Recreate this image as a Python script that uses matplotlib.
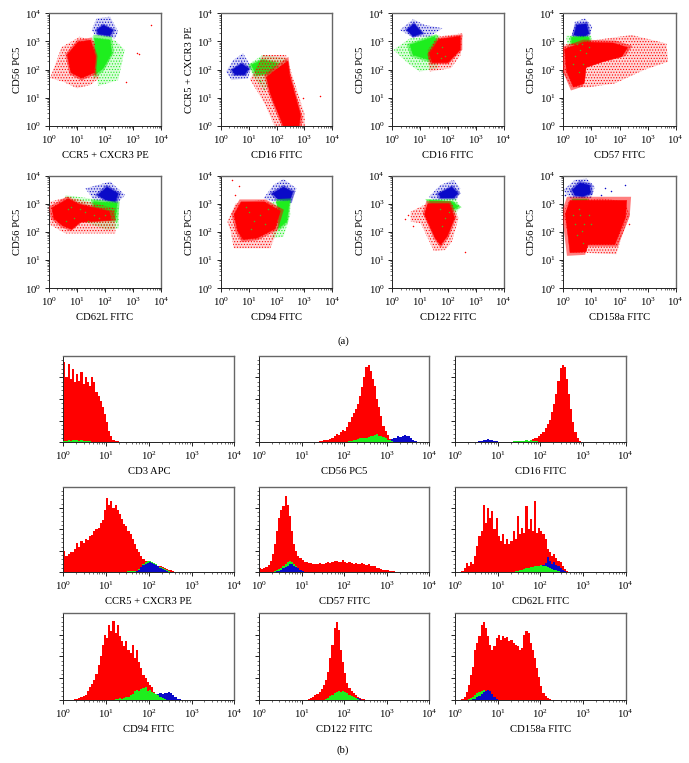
import matplotlib
matplotlib.use('Agg')
import numpy as np
import matplotlib.pyplot as plt
from matplotlib.ticker import LogLocator, NullFormatter, MultipleLocator

plt.rcParams['font.family'] = ['Liberation Serif', 'DejaVu Serif']
plt.rcParams['font.size'] = 7.7
plt.rcParams['hatch.linewidth'] = 0.5

W, H = 689, 763
RED, GREEN, BLUE = '#ff0000', '#1eee1e', '#0a0ac8'

# ---------- (a) dot plots: cloud outlines in log10 units (x, y) ----------
sc_xlabels = ['CCR5 + CXCR3 PE', 'CD16 FITC', 'CD16 FITC', 'CD57 FITC',
              'CD62L FITC', 'CD94 FITC', 'CD122 FITC', 'CD158a FITC']
sc_ylabels = ['CD56 PC5', 'CCR5 + CXCR3 PE', 'CD56 PC5', 'CD56 PC5',
              'CD56 PC5', 'CD56 PC5', 'CD56 PC5', 'CD56 PC5']

red_outer = [
    [(.05,1.7),(.46,2.8),(1.1,3.17),(1.64,3.0),(1.64,2.1),(1.8,1.7),(1.47,1.45),(1,1.34),(.52,1.57)],
    [(1.5,2.52),(2.34,2.52),(2.52,1.93),(3,.45),(3.03,0),(1.93,0),(1.57,.8),(1.28,1.28),(1.05,1.65)],
    [(1.28,2.7),(1.63,3.17),(2.52,3.29),(2.46,2.52),(2.1,2.05),(1.34,1.93),(1.28,2.35)],
    [(0,2.88),(.77,3.0),(2.43,3.23),(3.67,2.93),(3.73,2.28),(2.9,2.0),(1.83,1.51),(.89,1.37),(.3,1.37),(0,1.87)],
    [(.06,3.08),(.71,3.25),(1.36,3.08),(2.37,2.84),(2.37,1.95),(1.24,1.95),(.59,1.95),(.06,2.25)],
    [(.24,2.37),(.53,3.02),(1.54,3.14),(2.13,2.84),(2.01,2.01),(1.78,1.42),(.47,1.42),(.36,2.01)],
    [(.66,2.72),(1.14,2.96),(2.14,3.02),(2.38,2.49),(2.14,1.66),(1.9,1.36),(1.49,1.33),(1.02,2.31),(.66,2.37)],
    [(0,2.66),(.18,3.08),(1.36,3.2),(2.19,3.08),(2.37,2.6),(2.07,1.83),(1.89,1.21),(.3,1.28)],
]
red_core = [
    [(.7,2.52),(1.05,2.93),(1.47,3.0),(1.64,2.46),(1.59,1.93),(1.17,1.75),(.82,1.93)],
    [(1.99,1.93),(2.4,2.22),(2.46,1.75),(2.82,.45),(2.76,0),(2.28,0),(1.81,1.16),(1.69,1.69)],
    [(1.37,2.58),(1.69,3.05),(2.4,3.15),(2.4,2.7),(1.99,2.28),(1.46,2.28)],
    [(.12,2.7),(.77,2.93),(1.72,2.9),(2.2,2.75),(2.0,2.45),(1.36,2.28),(.83,2.1),(.77,1.57),(.41,1.45),(.18,1.99)],
    [(.18,2.84),(.71,3.14),(1.07,2.96),(2.07,2.72),(2.13,2.43),(1.12,2.37),(.83,2.13),(.53,2.25),(.24,2.49)],
    [(.53,2.6),(.77,3.02),(1.54,3.02),(2.07,2.72),(1.89,2.13),(1.3,1.83),(.83,1.78),(.65,2.07)],
    [(1.2,2.6),(1.31,2.96),(2.02,2.96),(2.2,2.49),(1.96,1.89),(1.73,1.6),(1.55,1.83)],
    [(.15,2.6),(.3,3.05),(2.17,3.05),(2.13,2.49),(1.78,1.6),(.89,1.6),(.83,1.36),(.3,1.33)],
]
green_outer = [
    [(1.53,3.17),(2.35,3.05),(2.7,2.7),(2.47,1.63),(1.76,1.42),(1.64,2.34)],
    [(.98,2.17),(1.5,2.52),(2.34,2.4),(2.4,1.93),(1.8,1.4),(1.5,1.34),(1.16,1.75)],
    [(.04,2.7),(.63,3.11),(1.69,3.23),(1.63,2.05),(.98,1.93),(.57,2.22)],
    [(.1,3.2),(1.0,3.2),(1.0,2.2),(.3,1.8)],
    [(.59,3.31),(1.83,3.14),(2.49,3.02),(2.49,2.13),(2.07,2.07),(.65,2.6)],
    [(1.66,3.02),(2.49,3.14),(2.49,2.6),(2.25,1.83),(1.83,1.78),(2.0,2.5)],
    [(1.25,3.14),(2.26,3.2),(2.44,2.9),(2.26,2.6),(1.25,2.96)],
    [(.3,3.22),(.9,3.22),(.9,3.0),(.3,3.0)],
]
green_core = [
    [(1.64,3.11),(2.18,3.05),(2.24,2.58),(1.94,2.05),(1.64,1.81),(1.64,2.46)],
    [(1.1,2.17),(1.5,2.34),(2.05,2.22),(1.75,1.87),(1.28,1.81)],
    [(.63,2.88),(1.51,3.17),(1.69,2.9),(1.34,2.34),(.75,2.52)],
    [(.3,3.15),(.9,3.15),(.95,2.9),(.3,2.9)],
    [(1.6,3.08),(2.43,3.02),(2.37,2.43),(1.6,2.5)],
    [(2.01,3.08),(2.47,3.1),(2.37,2.37),(2.07,2.13),(2.07,2.7)],
    [(1.31,3.14),(2.14,3.08),(2.38,2.9),(2.14,2.78),(1.37,3.02)],
    [(.35,3.17),(.85,3.17),(.85,3.02),(.35,3.02)],
]
blue_outer = [
    [(1.53,3.41),(1.7,3.82),(2.18,3.88),(2.47,3.35),(2.35,3.11),(1.64,3.23)],
    [(.19,1.93),(.45,2.34),(.8,2.58),(1.1,2.1),(.98,1.69),(.39,1.63)],
    [(.27,3.41),(.75,3.79),(1.16,3.59),(1.81,3.47),(1.34,3.17),(.69,3.17)],
    [(.27,3.05),(.41,3.7),(.77,3.82),(1.03,3.53),(.91,3.05)],
    [(1.3,3.55),(2.19,3.79),(2.72,3.31),(2.37,2.96),(1.6,3.14)],
    [(1.54,3.2),(1.89,3.67),(2.25,3.88),(2.72,3.55),(2.49,3.02),(1.89,3.08)],
    [(1.31,3.25),(1.73,3.67),(2.2,3.85),(2.44,3.55),(2.32,3.14),(1.49,3.14)],
    [(0,3.49),(.41,3.85),(.83,3.9),(1.12,3.61),(1.0,3.2),(.3,3.14)],
]
blue_core = [
    [(1.7,3.41),(1.94,3.59),(2.3,3.41),(2.18,3.2),(1.76,3.25)],
    [(.39,1.99),(.75,2.22),(1.02,2.05),(.86,1.81),(.51,1.81)],
    [(.51,3.41),(.78,3.64),(1.1,3.29),(.75,3.17)],
    [(.36,3.23),(.47,3.59),(.83,3.64),(.92,3.29),(.71,3.11)],
    [(1.72,3.31),(2.07,3.61),(2.49,3.37),(2.37,3.05),(2.01,3.14)],
    [(1.83,3.37),(2.25,3.61),(2.6,3.43),(2.49,3.08),(2.07,3.14)],
    [(1.65,3.37),(2.14,3.61),(2.38,3.37),(2.2,3.2),(1.73,3.2)],
    [(.3,3.49),(.59,3.76),(.95,3.67),(.98,3.37),(.71,3.25),(.41,3.29)],
]
# single events, drawn over the clouds
specks_green = [
    [], [(1.4,1.6),(1.7,2.0),(1.55,1.3),(2.0,2.1)], [(1.6,2.6),(1.9,2.5),(1.8,2.8),(1.75,2.4)],
    [(.4,2.5),(.6,2.7),(.7,2.2),(.5,2.9),(.8,2.6),(.35,2.2),(.65,2.9),(.55,1.9),(.9,2.8)],
    [(.7,2.8),(.9,2.5),(1.3,2.7),(1.6,2.6),(.6,2.4),(1.1,2.8),(1.8,2.5),(1.4,2.4),(2.0,2.6),(.8,2.9)],
    [(1.0,2.7),(1.2,2.4),(.9,2.9),(1.4,2.6),(1.6,2.3),(1.1,2.1),(1.7,2.8)],
    [(1.7,2.8),(1.9,2.5),(2.05,2.7),(1.8,2.2)],
    [(.4,2.3),(.5,1.9),(.6,2.6),(.7,1.6),(.75,2.3),(.55,2.8),(.9,2.6),(1.0,2.3),(.65,2.05),(.35,2.6)],
]
specks_red = [
    [(3.65,3.6),(3.15,2.6),(2.75,1.55),(3.2,2.55)], [(3.55,1.05),(2.95,1.0)], [], [],
    [], [(.4,3.85),(.65,3.65),(.5,3.3)], [(.45,2.45),(.55,2.6),(.75,2.2),(2.6,1.3)], [(2.35,2.3)],
]
specks_blue = [[], [], [], [], [], [], [], [(2.19,3.67),(1.48,3.55),(1.7,3.45),(1.35,3.3),(.05,3.3)]]

# ---------- (b) histograms: counts per 0.05-decade channel ----------
h_labels = ['CD3 APC', 'CD56 PC5', 'CD16 FITC', 'CCR5 + CXCR3 PE', 'CD57 FITC',
            'CD62L FITC', 'CD94 FITC', 'CD122 FITC', 'CD158a FITC']
red_start = [0, 1.35, 1.5, 0, 0, .15, .25, 1.15, .15]
red_counts = [
    [240,195,235,190,220,180,205,185,210,175,195,180,170,195,180,150,140,125,105,85,62,35,18,8,5,3,2,1],
    [2,4,3,6,8,7,10,14,18,25,22,32,38,35,45,60,75,88,100,115,140,165,195,225,232,215,190,170,130,105,80,50,35,22,10,4,1],
    [1,2,3,3,5,6,9,12,14,20,25,32,42,55,68,90,115,145,185,222,232,225,190,145,100,60,30,12,5,2,1],
    [65,50,55,60,62,70,88,78,95,90,100,98,110,112,125,130,135,150,158,190,225,205,215,195,205,190,175,160,145,140,125,115,100,85,72,62,50,40,35,32,30,28,25,22,20,18,15,12,10,8,6,4,2],
    [12,10,14,16,22,35,55,85,125,165,190,200,232,205,170,125,85,65,50,42,38,32,30,28,28,26,24,26,28,24,26,28,30,28,32,34,33,30,32,36,30,28,30,28,26,28,26,24,28,26,22,24,20,18,18,14,12,10,8,7,6,5,4,3,2,2,1],
    [5,12,28,18,32,25,48,80,110,125,205,150,195,165,185,130,165,110,95,115,85,100,85,95,125,100,170,115,135,120,200,130,160,125,215,120,135,125,115,100,70,60,50,55,42,35,30,18,10,5,2],
    [2,4,5,8,12,16,26,38,48,60,78,105,130,165,195,185,225,205,235,200,225,190,175,160,175,150,140,165,125,150,115,95,75,65,55,45,38,25,15,10,6,3],
    [2,6,10,15,18,25,32,45,60,85,125,165,215,232,210,150,115,80,50,35,28,20,15,10,7,4,2],
    [4,10,25,45,75,100,150,170,190,225,232,215,190,165,150,160,185,195,180,190,185,188,175,180,170,165,160,150,155,195,205,200,170,150,125,95,70,42,22,12,5,2],
]
green_start = [0, 2.1, 1.25, 1.45, .35, 1.4, 1.2, 1.55, .3]
green_counts = [
    [3,5,6,5,7,6,8,5,6,4,5,3,4,2,1],
    [3,4,6,8,10,12,13,12,14,15,18,20,22,24,20,18,15,12,8,6,4,2],
    [1,2,3,3,4,3,4,5,6,5,6,5,4,3,2,1],
    [2,3,5,4,3,5,10,16,24,30,33,34,32,28,24,20,15,12,9,6,4,2,1],
    [3,6,9,14,20,26,32,35,30,24,18,12,8,4,2],
    [3,5,6,8,10,12,14,15,16,18,20,18,22,18,20,15,12,10,8,6,4,2],
    [2,3,5,4,7,8,10,14,18,26,30,28,32,35,38,28,30,25,22,18,14,10,6,3],
    [3,6,12,16,20,24,26,25,26,24,20,16,12,8,5,2],
    [3,6,10,14,20,24,28,30,28,25,20,14,8,3],
]
blue_start = [0, 3.05, .45, 1.7, .35, 2.0, 1.8, 1.9, .4]
blue_counts = [
    [2,3,2,3,2,2,3,2,1],
    [4,10,14,12,18,16,20,22,18,20,14,8,3],
    [1,2,3,5,6,7,9,8,7,5,3,1],
    [3,8,15,22,26,28,30,27,25,22,18,14,10,7,4,2,1],
    [1,3,5,8,12,16,20,24,24,20,16,12,8,4,1],
    [15,22,28,45,35,25,30,22,18,12,6,3],
    [2,4,6,8,10,12,14,16,18,20,18,22,20,24,22,16,8,4,2],
    [2,4,5,4,5,6,8,6,5,3,1],
    [2,4,8,12,18,24,28,30,26,18,10,4,1],
]
CHANNEL = 0.05

fig = plt.figure(figsize=(W / 100, H / 100), dpi=100)


def make_axes(x0, x1, y0, y1):
    ax = fig.add_axes([x0 / W, 1 - y1 / H, (x1 - x0) / W, (y1 - y0) / H])
    ax.set_xscale('log')
    ax.set_xlim(1, 1e4)
    ax.xaxis.set_major_locator(LogLocator(10, numticks=6))
    ax.xaxis.set_minor_locator(LogLocator(10, subs=np.arange(2, 10) * 0.1, numticks=6))
    ax.xaxis.set_minor_formatter(NullFormatter())
    ax.tick_params(axis='both', which='major', length=3, width=0.6, labelsize=7.7, pad=2.5)
    ax.tick_params(axis='both', which='minor', length=1.5, width=0.4)
    for s in ('top', 'right'):
        ax.spines[s].set_color('#666666')
        ax.spines[s].set_linewidth(1.0)
    for s in ('left', 'bottom'):
        ax.spines[s].set_color('#222222')
        ax.spines[s].set_linewidth(0.7)
    return ax


def grown(points, factor):
    """Outline widened about its own centre, in decades."""
    p = np.array(points, dtype=float)
    c = p.mean(axis=0)
    return 10.0 ** (c + (p - c) * factor)


def cloud(ax, outer, core, colour, z, solid=1.08):
    o = 10.0 ** np.array(outer, dtype=float)
    # sparse fringe: faint tint with a dot pattern
    ax.fill(o[:, 0], o[:, 1], facecolor=colour, alpha=0.16, linewidth=0, zorder=z)
    ax.fill(o[:, 0], o[:, 1], facecolor='none', edgecolor=colour,
            hatch='......', linewidth=0, zorder=z + 0.02)
    # dense ring round the core
    m = grown(core, 1.22)
    ax.fill(m[:, 0], m[:, 1], facecolor=colour, alpha=0.5, linewidth=0, zorder=z + 0.05)
    s = grown(core, solid)
    ax.fill(s[:, 0], s[:, 1], facecolor=colour, edgecolor=colour,
            linewidth=0.3, zorder=z + 0.1)


def specks(ax, pts, colour):
    if pts:
        p = 10.0 ** np.array(pts, dtype=float)
        ax.scatter(p[:, 0], p[:, 1], s=1.2, c=colour, linewidths=0, zorder=8)


sc_x = [(48.7, 161.3), (220.7, 332.3), (392.3, 503.7), (563.3, 675.7)]
sc_y = [(13.3, 126), (175.7, 288.3)]
for i in range(8):
    x0, x1 = sc_x[i % 4]
    y0, y1 = sc_y[i // 4]
    ax = make_axes(x0, x1, y0, y1)
    ax.set_yscale('log')
    ax.set_ylim(1, 1e4)
    ax.yaxis.set_major_locator(LogLocator(10, numticks=6))
    ax.yaxis.set_minor_locator(LogLocator(10, subs=np.arange(2, 10) * 0.1, numticks=6))
    ax.yaxis.set_minor_formatter(NullFormatter())
    cloud(ax, blue_outer[i], blue_core[i], BLUE, 2, solid=0.95)
    cloud(ax, green_outer[i], green_core[i], GREEN, 3, solid=1.0)
    cloud(ax, red_outer[i], red_core[i], RED, 4, solid=1.08)
    specks(ax, specks_green[i], '#55aa22')
    specks(ax, specks_red[i], RED)
    specks(ax, specks_blue[i], BLUE)
    ax.set_xlabel(sc_xlabels[i], fontsize=7.7, labelpad=3.5)
    ax.set_ylabel(sc_ylabels[i], fontsize=7.7, labelpad=2)

hi_x = [(63.3, 234.3), (259, 429.3), (455, 625.7)]
hi_y = [(356, 442.3), (486.7, 572.3), (613.3, 700)]


def hist(ax, start, counts, colour, z):
    exps = start + CHANNEL * np.arange(len(counts) + 1)
    ax.stairs(counts, 10.0 ** exps, fill=True, color=colour, linewidth=0, zorder=z)


for i in range(9):
    x0, x1 = hi_x[i % 3]
    y0, y1 = hi_y[i // 3]
    ax = make_axes(x0, x1, y0, y1)
    ax.set_ylim(0, 259)
    ax.yaxis.set_major_locator(MultipleLocator(65))
    ax.yaxis.set_minor_locator(MultipleLocator(13))
    ax.set_yticklabels([])
    hist(ax, red_start[i], red_counts[i], RED, 2)
    if i in (3, 4, 8):
        hist(ax, green_start[i], green_counts[i], GREEN, 3)
        hist(ax, blue_start[i], blue_counts[i], BLUE, 4)
    else:
        hist(ax, blue_start[i], blue_counts[i], BLUE, 3)
        hist(ax, green_start[i], green_counts[i], GREEN, 4)
    ax.set_xlabel(h_labels[i], fontsize=7.7, labelpad=3.5)

fig.text(343 / W, 1 - 341 / H, '(a)', ha='center', va='center', fontsize=7.7)
fig.text(343 / W, 1 - 750 / H, '(b)', ha='center', va='center', fontsize=7.7)
fig.savefig('out.png', dpi=100)
